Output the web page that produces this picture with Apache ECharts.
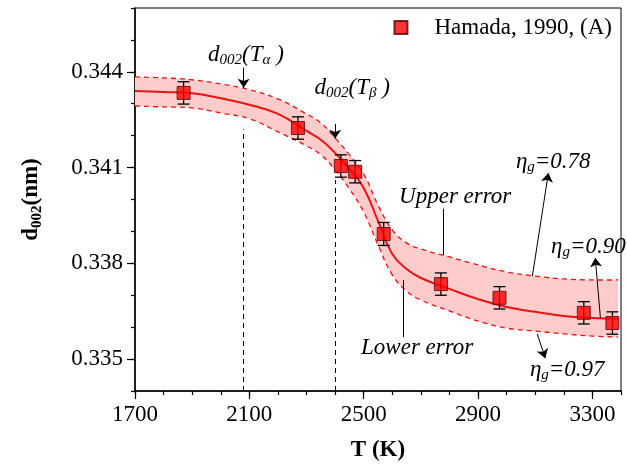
<!DOCTYPE html>
<html>
<head>
<meta charset="utf-8">
<script src="https://cdn.jsdelivr.net/npm/echarts@6/dist/echarts.min.js"></script>
<style>
  html, body { margin: 0; background: #fff; }
  #chart { width: 627px; height: 470px; }
</style>
</head>
<body>
<div id="chart"></div>
<script>
// fitted curve and its error band
const fitT = [1700, 1800, 1900, 2000, 2100, 2200, 2300, 2350, 2400, 2450, 2500, 2550, 2600, 2650, 2700, 2800, 2900, 3000, 3100, 3200, 3300, 3390];
const fitD = [0.34340, 0.34337, 0.34333, 0.34317, 0.34297, 0.34268, 0.34215, 0.34187, 0.34146, 0.34096, 0.34036, 0.33933, 0.33829, 0.33782, 0.33754, 0.33720, 0.33688, 0.33663, 0.33648, 0.33635, 0.33629, 0.33626];
const upperD = [0.34384, 0.34381, 0.34375, 0.34362, 0.34344, 0.34315, 0.34268, 0.34240, 0.34193, 0.34140, 0.34080, 0.33983, 0.33905, 0.33864, 0.33845, 0.33820, 0.33795, 0.33773, 0.33760, 0.33751, 0.33748, 0.33748];
const lowerD = [0.34293, 0.34290, 0.34287, 0.34271, 0.34253, 0.34212, 0.34168, 0.34140, 0.34093, 0.34033, 0.33961, 0.33858, 0.33764, 0.33713, 0.33685, 0.33651, 0.33619, 0.33597, 0.33588, 0.33579, 0.33572, 0.33569];

// Hamada, 1990 measurements
const expT = [1870, 2270, 2420, 2470, 2570, 2770, 2975, 3270, 3370];
const expD = [0.34334, 0.34224, 0.34105, 0.34087, 0.33892, 0.33735, 0.33692, 0.33645, 0.33613];
const expErr = [0.00035, 0.00035, 0.00035, 0.00035, 0.00036, 0.00035, 0.00035, 0.00035, 0.00035];

// ticks
const xLabels = [1700, 2100, 2500, 2900, 3300];
const xMinor = [1700, 1800, 1900, 2000, 2100, 2200, 2300, 2400, 2500, 2600, 2700, 2800, 2900, 3000, 3100, 3200, 3300, 3400];
const yLabels = [0.335, 0.338, 0.341, 0.344];
const yMinor = [0.334, 0.335, 0.336, 0.337, 0.338, 0.339, 0.340, 0.341, 0.342, 0.343, 0.344, 0.345, 0.346];

const tAlpha = 2080;
const tBeta = 2400;

const FONT = 'Liberation Serif';
const RED = '#ee1111';
const SMOOTH = 0.45;

const chart = echarts.init(document.getElementById('chart'));

const italic = {
  fontFamily: FONT, fontStyle: 'italic', fontSize: 23, color: '#000',
  rich: {
    m: { fontFamily: FONT, fontStyle: 'italic', fontSize: 23, color: '#000', lineHeight: 26 },
    s: { fontFamily: FONT, fontStyle: 'italic', fontSize: 15, color: '#000', lineHeight: 26, verticalAlign: 'bottom', padding: [10, 0, 0, 0] }
  }
};

const textAt = (coord, formatter) => ({
  coord, symbolSize: 0,
  label: Object.assign({ show: true, position: 'inside', formatter }, italic)
});

// band fill, dashed error curves and fitted curve, all smoothed the same way
function renderCurves(params, api) {
  const up = fitT.map((t, i) => api.coord([t, upperD[i]]));
  const lo = fitT.map((t, i) => api.coord([t, lowerD[i]]));
  const fit = fitT.map((t, i) => api.coord([t, fitD[i]]));
  const n = up.length;
  // corner points doubled so the closed outline keeps sharp ends
  const outline = [up[0]].concat(up, [up[n - 1], lo[n - 1]], lo.slice().reverse(), [lo[0]]);
  const dash = { stroke: RED, lineWidth: 1.3, lineDash: [5, 4], fill: null };
  return {
    type: 'group',
    children: [
      { type: 'polygon', shape: { points: outline, smooth: SMOOTH }, style: { fill: '#ffcccc', stroke: null } },
      { type: 'polyline', shape: { points: up, smooth: SMOOTH }, style: dash },
      { type: 'polyline', shape: { points: lo, smooth: SMOOTH }, style: dash },
      { type: 'polyline', shape: { points: fit, smooth: SMOOTH }, style: { stroke: RED, lineWidth: 2, fill: null } }
    ]
  };
}

const option = {
  animation: false,
  grid: {
    left: 135, top: 8, right: 6, bottom: 79,
    show: true, borderColor: '#000', borderWidth: 1
  },
  legend: {
    right: 10, top: 11,
    itemWidth: 13, itemHeight: 13,
    data: [{ name: 'Hamada, 1990, (A)', icon: 'rect' }],
    textStyle: { fontFamily: FONT, fontSize: 23, color: '#000', padding: [0, 0, 0, 22] }
  },
  xAxis: [
    {
      type: 'value', min: 1700, max: 3400,
      name: 'T (K)', nameLocation: 'middle', nameGap: 48,
      nameTextStyle: { fontFamily: FONT, fontSize: 23, fontWeight: 'bold', color: '#000' },
      axisLine: { lineStyle: { color: '#000', width: 1.5 } },
      axisTick: { customValues: xLabels, length: 8, lineStyle: { color: '#000', width: 1.2 } },
      axisLabel: {
        customValues: xLabels, margin: 12, fontFamily: FONT, fontSize: 23, color: '#000',
        formatter: (v) => String(v)
      },
      splitLine: { show: false }
    },
    {
      type: 'value', min: 1700, max: 3400, position: 'bottom',
      axisLine: { show: false },
      axisTick: { customValues: xMinor, length: 4, lineStyle: { color: '#000', width: 1.2 } },
      axisLabel: { show: false },
      splitLine: { show: false }
    }
  ],
  yAxis: [
    {
      type: 'value', min: 0.334, max: 0.346,
      name: '{b|d}{s|002}{b|(nm)}', nameLocation: 'middle', nameGap: 90,
      nameTextStyle: {
        rich: {
          b: { fontFamily: FONT, fontSize: 23, fontWeight: 'bold', color: '#000', lineHeight: 28 },
          s: { fontFamily: FONT, fontSize: 15, fontWeight: 'bold', color: '#000', lineHeight: 28, verticalAlign: 'bottom', padding: [11, 0, 0, 0] }
        }
      },
      axisLine: { lineStyle: { color: '#000', width: 1.5 } },
      axisTick: { customValues: yLabels, length: 8, lineStyle: { color: '#000', width: 1.2 } },
      axisLabel: {
        customValues: yLabels, margin: 12, fontFamily: FONT, fontSize: 23, color: '#000',
        formatter: (v) => v.toFixed(3)
      },
      splitLine: { show: false }
    },
    {
      type: 'value', min: 0.334, max: 0.346, position: 'left',
      axisLine: { show: false },
      axisTick: { customValues: yMinor, length: 4, lineStyle: { color: '#000', width: 1.2 } },
      axisLabel: { show: false },
      splitLine: { show: false }
    }
  ],
  series: [
    {
      type: 'custom', z: 2, silent: true, clip: true,
      data: [[fitT[0], fitD[0]]],
      renderItem: renderCurves,
      markLine: {
        silent: true, symbol: ['none', 'none'], label: { show: false },
        lineStyle: { color: '#000', width: 1, type: [5, 4] },
        data: [
          [{ coord: [tAlpha, 0.334] }, { coord: [tAlpha, 0.34220] }],
          [{ coord: [tBeta, 0.334] }, { coord: [tBeta, 0.34061] }]
        ]
      }
    },
    {
      // leader lines for the error labels
      type: 'line', data: [], z: 3,
      markLine: {
        silent: true, symbol: ['none', 'none'], label: { show: false },
        lineStyle: { color: '#000', width: 1, type: 'solid' },
        data: [
          [{ coord: [2778, 0.33971] }, { coord: [2778, 0.33826] }],
          [{ coord: [2638, 0.33748] }, { coord: [2638, 0.33569] }]
        ]
      }
    },
    {
      // arrows and annotations
      type: 'line', data: [], z: 3,
      markLine: {
        silent: true, symbol: ['none', 'arrow'], symbolSize: 9, label: { show: false },
        lineStyle: { color: '#000', width: 1, type: 'solid' },
        data: [
          [{ coord: [tAlpha, 0.34413] }, { coord: [tAlpha, 0.34350] }],
          [{ coord: [tBeta, 0.34237] }, { coord: [tBeta, 0.34190] }],
          [{ coord: [3090, 0.33760] }, { coord: [3146, 0.34083] }],
          [{ coord: [3328, 0.33629] }, { coord: [3310, 0.33817] }],
          [{ coord: [3107, 0.33579] }, { coord: [3135, 0.33503] }]
        ]
      },
      markPoint: {
        silent: true,
        itemStyle: { color: 'transparent' },
        data: [
          textAt([2088, 0.34453], '{m|d}{s|002}{m|(T}{s|α}{m| )}'),
          textAt([2460, 0.34350], '{m|d}{s|002}{m|(T}{s|β}{m| )}'),
          textAt([2820, 0.34008], '{m|Upper error}'),
          textAt([2687, 0.33535], '{m|Lower error}'),
          textAt([3163, 0.34118], '{m|η}{s|g}{m|=0.78}'),
          textAt([3286, 0.33851], '{m|η}{s|g}{m|=0.90}'),
          textAt([3212, 0.33466], '{m|η}{s|g}{m|=0.97}')
        ]
      }
    },
    {
      // error bars
      type: 'custom', z: 4, silent: true,
      data: expT.map((t, i) => [t, expD[i], expErr[i]]),
      encode: { x: 0, y: 1 },
      renderItem: (params, api) => {
        const t = api.value(0), d = api.value(1), e = api.value(2);
        const top = api.coord([t, d + e]);
        const bot = api.coord([t, d - e]);
        const w = 6;
        const st = { stroke: '#000', lineWidth: 1.3 };
        return {
          type: 'group',
          children: [
            { type: 'line', shape: { x1: top[0], y1: top[1], x2: bot[0], y2: bot[1] }, style: st },
            { type: 'line', shape: { x1: top[0] - w, y1: top[1], x2: top[0] + w, y2: top[1] }, style: st },
            { type: 'line', shape: { x1: bot[0] - w, y1: bot[1], x2: bot[0] + w, y2: bot[1] }, style: st }
          ]
        };
      }
    },
    {
      name: 'Hamada, 1990, (A)', type: 'scatter', z: 5,
      data: expT.map((t, i) => [t, expD[i]]),
      symbol: 'rect', symbolSize: 13,
      itemStyle: { color: '#ff0000', borderColor: '#550000', borderWidth: 1 }
    }
  ]
};

chart.setOption(option);
</script>
</body>
</html>
